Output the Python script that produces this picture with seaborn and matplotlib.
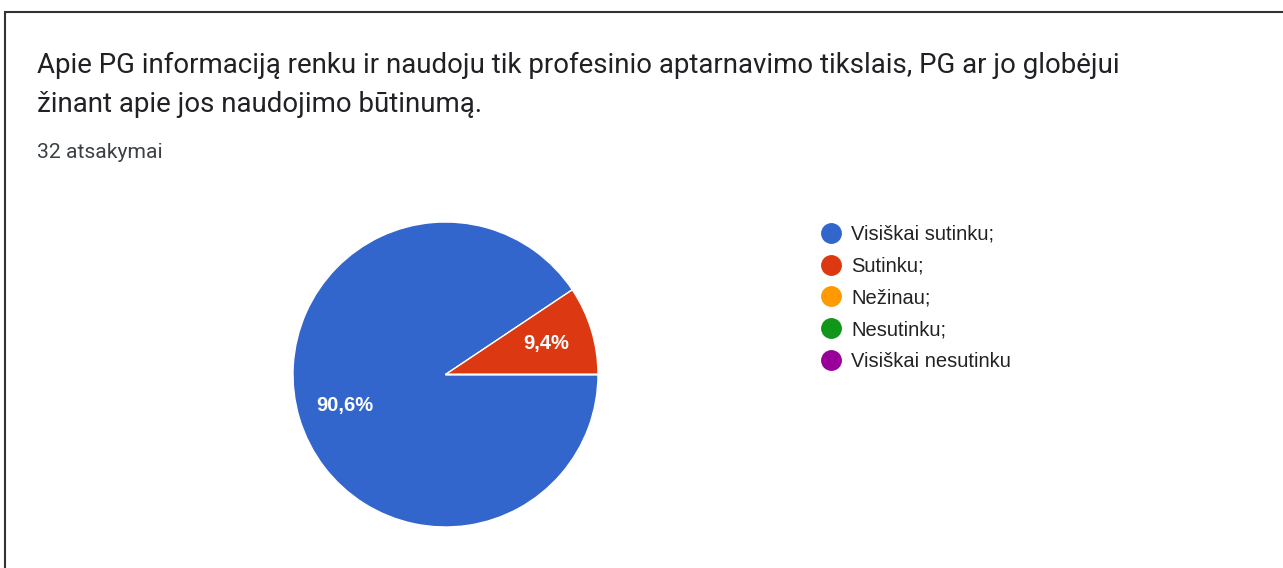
"""
    Google Forms style pie chart: answers to one survey question
"""
import matplotlib
matplotlib.use("Agg")
import matplotlib.pyplot as plt
from matplotlib.lines import Line2D
from matplotlib.patches import Rectangle
import seaborn as sns

# Data
question_lines = ["Apie PG informaciją renku ir naudoju tik profesinio aptarnavimo tikslais, PG ar jo globėjui",
                  "žinant apie jos naudojimo būtinumą."]
n_answers_text = "32 atsakymai"
categories = ["Visiškai sutinku;", "Sutinku;", "Nežinau;", "Nesutinku;", "Visiškai nesutinku"]
counts = [29, 3, 0, 0, 0]
colors = ["#3366cc", "#dc3912", "#ff9900", "#109618", "#990099"]


def pct_label(p):
    # Lithuanian decimal comma, hide empty slices
    if p <= 0:
        return ""
    return ("%.1f%%" % p).replace(".", ",")


if __name__ == "__main__":
    sns.set_theme(style="white")
    plt.rcParams["font.family"] = ["Roboto", "DejaVu Sans"]

    fig = plt.figure(figsize=(12.83, 5.68), dpi=100)
    W, H = 1283, 568

    # frame of the screenshot
    fig.patches.append(Rectangle((5 / W, -0.1), 1.2, 1 - 12 / H + 0.1, transform=fig.transFigure,
                                 fill=False, edgecolor="#333333", linewidth=1.5))

    # question title
    fig.text(37 / W, 1 - 73 / H, question_lines[0], fontsize=19.9, color="#202124", va="baseline")
    fig.text(37 / W, 1 - 112 / H, question_lines[1], fontsize=19.9, color="#202124", va="baseline")
    fig.text(37 / W, 1 - 158 / H, n_answers_text, fontsize=15.2, color="#3c4043", va="baseline")

    # pie
    cx, cy, r = 445.5, 374.5, 152.5
    ax = fig.add_axes([(cx - r) / W, (H - cy - r) / H, 2 * r / W, 2 * r / H])
    wedges, texts, autotexts = ax.pie(counts, colors=colors, startangle=0, counterclock=False,
                                      autopct=pct_label, pctdistance=0.69, radius=1,
                                      wedgeprops=dict(edgecolor="white", linewidth=1))
    for t in autotexts:
        t.set_color("white")
        t.set_fontsize(14.5)
        t.set_fontweight("bold")
        t.set_family(["Liberation Sans", "DejaVu Sans"])
    ax.set_xlim(-1.0, 1.0)
    ax.set_ylim(-1.0, 1.0)
    ax.set_aspect("equal")
    ax.axis("off")

    # legend
    handles = [Line2D([], [], marker="o", linestyle="", markersize=14, markerfacecolor=c,
                      markeredgecolor=c) for c in colors]
    fig.legend(handles, categories, loc="upper left", bbox_to_anchor=(821 / W, 1 - 225 / H),
               frameon=False, prop={"family": ["Liberation Sans", "DejaVu Sans"], "size": 14.5},
               labelcolor="#222222", handletextpad=0.5, labelspacing=0.63, handlelength=1.0,
               borderpad=0, borderaxespad=0)

    plt.savefig("out.png", dpi=100)
